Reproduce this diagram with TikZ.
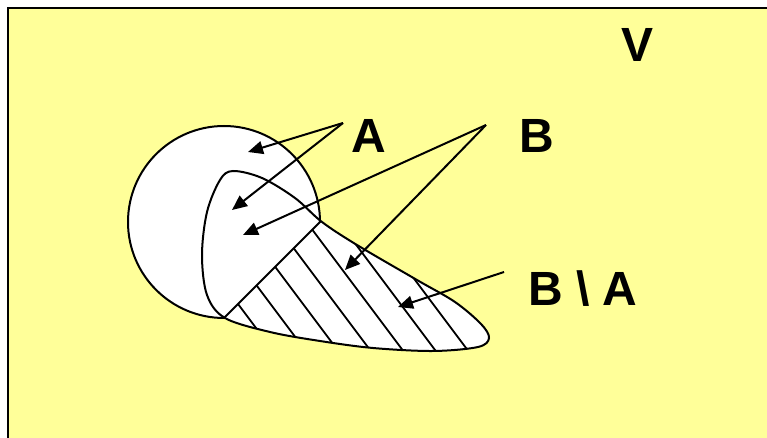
\documentclass[tikz,border=0pt]{standalone}
\usepackage{fontspec}
\setmainfont{Liberation Sans}
\usepackage{xcolor}
\usepackage{tikz}
\usetikzlibrary{arrows.meta}
\definecolor{vyellow}{HTML}{FFFF99}

\begin{document}
\begin{tikzpicture}[x=0.5pt,y=-0.5pt,
  every node/.style={font=\bfseries\fontsize{24}{24}\selectfont,inner sep=0pt},
  outline/.style={draw=black,line width=1pt},
  hatch/.style={draw=black,line width=0.9pt},
  ptr/.style={draw=black,line width=1pt,-{Triangle[length=7.5pt,width=6.5pt]}}]
  \useasboundingbox (0,0) rectangle (767,438);
  \fill[white] (0,0) rectangle (767,438);
  \fill[vyellow] (8,8) rectangle (767,438);
  \draw[line width=1.2pt] (8,438) -- (8,8) -- (767,8);

  % the two sets
  \path[save path=\shapeA] (320,222) arc[start angle=0,end angle=-270,radius=96] -- cycle;
  \path[save path=\shapeB] plot[smooth cycle,tension=0.55] coordinates {
    (233,171) (262,178) (295,198) (322,222) (357,245) (417,280) (455,302)
    (481,324) (489,338) (478,347) (433,351) (373,348) (320,341) (270,332)
    (225,318) (207,295) (202,255) (207,212) (220,180)};
  \path[fill=white,use path=\shapeA];
  \path[fill=white,use path=\shapeB];

  % B \ A hatching
  \begin{scope}
    \clip[use path=\shapeB];
    \clip (100,442) -- (442,100) -- (700,100) -- (700,450) -- cycle;
    \foreach \c in {8,34,60,86,112,138,164}
      \draw[hatch] ({(\c+180)/0.8-120},140) -- ({(\c+180)/0.8+120},460);
  \end{scope}
  \path[outline,use path=\shapeA];
  \path[outline,use path=\shapeB];

  \node (labelV) at (638,45) {V};
  \node (labelA) at (369,136) {A};
  \node (labelB) at (537,136) {B};
  \node (labelBA) at (583,289) {B \textbackslash\ A};

  \coordinate (aStart) at (343,123);
  \coordinate (aTip1) at (248,152);
  \coordinate (aTip2) at (232,210);
  \coordinate (bStart) at (486,125);
  \coordinate (bTip1) at (243,235);
  \coordinate (bTip2) at (345,270);
  \coordinate (baStart) at (504,272);
  \coordinate (baTip) at (398,307);

  \draw[ptr] (aStart) -- (aTip1);
  \draw[ptr] (aStart) -- (aTip2);
  \draw[ptr] (bStart) -- (bTip1);
  \draw[ptr] (bStart) -- (bTip2);
  \draw[ptr] (baStart) -- (baTip);
\end{tikzpicture}
\end{document}
